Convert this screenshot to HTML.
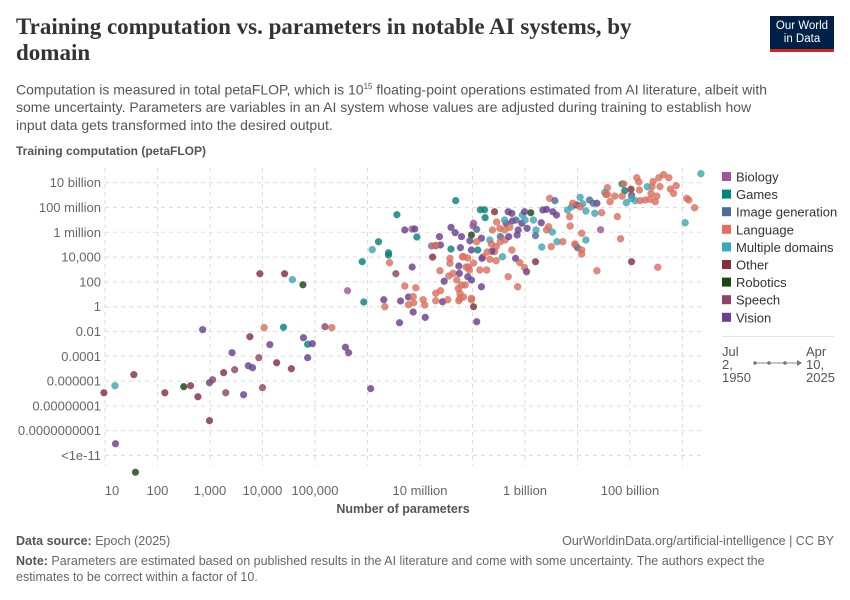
<!DOCTYPE html>
<html><head><meta charset="utf-8">
<style>
body{margin:0;background:#fff;font-family:"Liberation Sans",sans-serif;}
#wrap{position:relative;width:850px;height:600px;overflow:hidden;}
.t{position:absolute;white-space:nowrap;}
</style></head>
<body>
<div id="wrap">
<div class="t" style="left:16px;top:14px;font-family:'Liberation Serif',serif;font-size:23px;line-height:26px;color:#333;font-weight:bold;white-space:normal;width:700px;">Training computation vs. parameters in notable AI systems, by<br>domain</div>
<div style="position:absolute;left:770px;top:16px;width:64px;height:36px;background:#002147;border-bottom:3px solid #ce261e;color:#fff;font-size:11.5px;line-height:13px;text-align:center;padding-top:4px;box-sizing:border-box;">Our World<br>in Data</div>
<div class="t" style="left:16px;top:78px;font-size:14px;line-height:17.5px;color:#555;">Computation is measured in total petaFLOP, which is 10<sup style="font-size:8px">15</sup> floating-point operations estimated from AI literature, albeit with<br>some uncertainty. Parameters are variables in an AI system whose values are adjusted during training to establish how<br>input data gets transformed into the desired output.</div>
<div class="t" style="left:16px;top:144px;font-size:12px;font-weight:bold;color:#555;">Training computation (petaFLOP)</div>
<svg id="chart" width="850" height="600" style="position:absolute;left:0;top:0;"></svg>
<div class="t" style="left:16px;top:534px;font-size:12.5px;color:#666;"><b style="color:#555;font-weight:bold">Data source:</b> Epoch (2025)</div>
<div class="t" style="right:16px;top:534px;font-size:12.5px;color:#666;">OurWorldinData.org/artificial-intelligence | CC BY</div>
<div class="t" style="left:16px;top:553px;font-size:12.5px;line-height:16px;color:#666;white-space:normal;width:800px;"><b style="color:#555">Note:</b> Parameters are estimated based on published results in the AI literature and come with some uncertainty. The authors expect the estimates to be correct within a factor of 10.</div>
</div>
<script>
const domainNames=["Biology","Games","Image generation","Language","Multiple domains","Other","Robotics","Speech","Vision"];
const domainCodes=["B","G","I","L","M","O","R","S","V"];
const domainColors=["#a2559c","#00847e","#4c6a9c","#e56e5a","#38aaba","#883039","#18470f","#8c4569","#6d3e91"];
const xTickExps=[1,2,3,4,5,7,9,11];
const xTickLabels=["10","100","1,000","10,000","100,000","10 million","1 billion","100 billion"];
const yTickExps=[10,8,6,4,2,0,-2,-4,-6,-8,-10,-12];
const yTickLabels=["10 billion","100 million","1 million","10,000","100","1","0.01","0.0001","0.000001","0.00000001","0.0000000001","<1e-11"];
const pointDomain=("OMOVROROOV"+"VSOSOVSVVV"+"OSOLSVOOMR"+"GOVGVVSLBV"+"VVGGMGGGGL"+"VLSVVVBVGV"+"LVLLLLVLLV"+"OBSVVLLLVL"+"LVLLVVGGVV"+"VLVLLLLLLL"+"LLVLLOBRIV"+"VGVLGGGOLL"+"LMVBLLLLVL"+"LVLLMILLVL"+"VMVVLVLVLL"+"LVLVIVMMVR"+"MVMIMOVLLM"+"LMLVVLIVVM"+"MLLLIVLVML"+"LLLLGLGLML"+"OLLMLLLLLL"+"LLMLOLLBSM"+"MMLLLLLLLL"+"LLLLVIMMML"+"LLLMIML"+"LLLVVLLLLLL").split("");
const pointLogParams=[.98,1.19,1.55,1.2,1.58,2.14,2.5,2.63,2.77,2.86,2.99,3.05,2.99,3.3,3.26,3.42,3.47,3.64,3.73,3.81,3.76,3.93,3.95,4.03,4.0,4.14,4.27,4.42,4.57,4.77,4.4,4.55,4.78,4.86,4.95,4.86,5.19,5.32,5.62,5.58,5.64,6.06,5.93,5.9,6.09,6.21,6.56,6.4,6.4,6.42,6.31,6.33,6.54,6.61,6.63,6.71,6.85,6.9,6.94,6.85,6.71,6.78,6.78,6.88,6.87,6.92,6.87,7.06,7.09,7.1,7.24,7.22,7.3,7.39,7.37,7.3,7.3,7.39,7.43,7.53,7.38,7.46,7.57,7.55,7.59,7.67,7.68,7.59,7.77,7.79,7.74,7.63,7.75,7.7,7.73,7.76,7.74,7.83,7.86,7.83,7.91,7.92,7.91,7.94,7.98,8.02,8.01,7.98,8.08,7.95,7.98,8.1,8.08,8.02,8.15,8.23,8.24,8.42,8.46,8.52,8.38,8.33,8.17,8.02,8.08,8.36,8.45,8.42,8.37,8.28,8.2,8.18,8.33,8.45,8.57,8.53,8.53,8.62,8.69,8.61,8.64,8.61,8.68,8.75,8.71,8.85,8.75,8.82,8.68,8.9,8.99,9.03,8.86,8.76,8.83,8.94,9.0,8.95,8.99,9.11,9.16,9.04,9.21,9.2,9.32,9.2,9.31,9.41,9.45,9.52,9.5,9.61,9.72,9.34,9.41,9.47,9.57,9.53,9.6,9.81,9.89,9.85,9.86,9.96,10.0,9.98,9.91,8.87,12.35,11.64,11.74,11.55,11.13,11.17,10.85,10.88,10.9,10.57,10.52,10.54,11.02,11.18,11.42,11.33,11.57,11.44,11.77,11.88,11.83,12.08,12.12,12.23,12.05,11.53,11.03,10.37,10.82,10.44,11.03,11.03,10.93,11.1,11.29,11.38,11.48,11.19,11.4,11.51,10.85,10.71,10.76,10.62,10.57,10.46,10.37,10.3,10.33,10.16,10.16,10.08,10.08,10.08,9.95,10.05,10.23,10.1,10.05,7.79,7.76,7.98,8.17,7.98,8.27,8.14,7.88,7.57,7.3,7.81];
const pointLogCompute=[-6.94,-6.37,-5.48,-11.05,-13.35,-6.94,-6.45,-6.37,-7.26,-1.85,-6.13,-5.89,-9.19,-6.94,-5.32,-3.71,-5.08,-7.1,-4.76,-4.92,-2.42,-4.11,2.66,-1.69,-6.53,-3.06,-4.52,2.66,2.18,1.77,-1.66,-5.0,-2.5,-3.03,-2.98,-4.11,-1.61,-1.69,1.29,-3.27,-3.71,-6.61,0.38,3.63,4.6,5.24,7.42,4.35,4.17,3.55,0.56,0,2.66,-1.29,0.46,6.19,6.27,6.27,5.62,3.2,1.67,0.78,0.16,0.32,0.81,1.53,-0.43,0.56,0.14,-0.86,4.0,4.9,4.92,4.98,5.65,1.08,0.48,1.29,0.4,0.56,2.9,2.05,3.5,2.48,6.4,5.97,8.55,4.65,4.76,5.65,3.28,2.69,2.69,2.15,1.48,1.08,0.48,0.78,1.75,4.03,3.93,3.2,2.42,2.96,0.56,0,6.51,5.78,6.24,5.32,4.57,4.57,-1.21,3.52,7.82,7.82,7.18,7.66,6.83,6.32,6.19,5.38,5.52,6.73,5.24,5.06,4.84,4.44,4.47,4.41,4.03,3.9,3.82,3.71,4.03,5.65,5.24,5.38,5.65,6.19,6.73,6.99,7.66,7.53,6.4,5.78,4.57,3.9,2.42,3.55,3.15,2.82,1.61,6.91,6.99,6.73,6.99,7.39,7.66,7.58,6.99,6.32,6.19,5.73,4.81,3.63,6.77,6.19,6.45,6.02,4.84,5.24,5.24,7.8,7.85,8.74,8.55,7.66,7.39,7.8,8.06,7.26,6.51,4.98,4.76,8.2,8.34,6.19,10.73,10.65,10.4,10.4,10.4,10.06,9.9,9.9,9.35,9.6,9.22,9.06,9.47,9.41,9.68,9.68,9.68,10.09,9.49,9.76,9.14,8.74,8.6,7.98,6.77,3.18,3.63,2.9,5.48,6.21,9.0,8.74,8.39,8.55,8.6,8.66,8.47,8.55,9.14,8.92,8.92,8.92,7.26,8.47,9.06,7.58,8.34,8.34,7.53,7.72,5.38,5.92,4.57,4.25,5.06,8.82,8.6,8.3,8.06,1.75,0.67,0.67,1.61,2.15,2.96,2.96,3.2,3.9,4.95,4.03];

const NS="http://www.w3.org/2000/svg";
const svg=document.getElementById("chart");
const X0=105,XD=52.5,Y0=182.7,YD=12.4,PL=105,PR=703,PT=168,PB=465;
function xScale(e){return X0+(e-1)*XD;}
function yScale(e){return Y0+(10-e)*YD;}
function mk(tag,attrs,parent){const el=document.createElementNS(NS,tag);for(const k in attrs)el.setAttribute(k,attrs[k]);(parent||svg).appendChild(el);return el;}

for(let e=1;e<=12;e++){
  const g=mk("line",{x1:xScale(e),x2:xScale(e),y1:PT,y2:PB,stroke:"#ddd","stroke-dasharray":"4,4"});
  
  
}
yTickExps.forEach((e,i)=>{
  const g=mk("line",{x1:PL,x2:PR,y1:yScale(e),y2:yScale(e),stroke:"#ddd","stroke-dasharray":"4,4"});
  
  
  const t=mk("text",{x:PL-4,y:yScale(e)+4.5,"text-anchor":"end","font-size":"13","fill":"#666","font-family":"Liberation Sans, sans-serif"});
  t.textContent=yTickLabels[i];
  
  
});
xTickExps.forEach((e,i)=>{
  let x=xScale(e); if(i===0)x+=7;
  const t=mk("text",{x:x,y:495,"text-anchor":"middle","font-size":"13","fill":"#666","font-family":"Liberation Sans, sans-serif"});
  t.textContent=xTickLabels[i];
  
  
});
const xt=mk("text",{x:403,y:513,"text-anchor":"middle","font-size":"12.5","font-weight":"bold","fill":"#555","font-family":"Liberation Sans, sans-serif"});
xt.textContent="Number of parameters";



const g=mk("g",{});
pointDomain.forEach((d,i)=>{
  if(i>=pointLogParams.length||i>=pointLogCompute.length)return;
  const di=domainCodes.indexOf(d);
  const c=mk("circle",{cx:xScale(pointLogParams[i]),cy:yScale(pointLogCompute[i]),r:3.5,fill:domainColors[di],"fill-opacity":0.82,stroke:"#777","stroke-width":0.4,"stroke-opacity":0.6},g);
  
  
});

domainNames.forEach((n,i)=>{
  const y=177+i*17.6;
  const r=mk("rect",{x:722,y:y-5,width:9,height:9,fill:domainColors[i]});
  
  
  const t=mk("text",{x:736,y:y+4.5,"font-size":"13","fill":"#333","font-family":"Liberation Sans, sans-serif"});
  t.textContent=n;
  
  
});
const sep=mk("line",{x1:722,x2:834,y1:336.5,y2:336.5,stroke:"#e5e5e5","stroke-width":1});


[["Jul",722,356],["2,",722,369],["1950",722,382],["Apr",806,356],["10,",806,369],["2025",806,382]].forEach(a=>{
  const t=mk("text",{x:a[1],y:a[2],"font-size":"13","fill":"#555","font-family":"Liberation Sans, sans-serif"});
  t.textContent=a[0];
  
  
});
const tl=mk("line",{x1:754,x2:798,y1:363,y2:363,stroke:"#888","stroke-width":1});


[755,769,785].forEach(x=>{
  const c=mk("circle",{cx:x,cy:363,r:1.8,fill:"#777"});
  
  
});
const ar=mk("path",{d:"M797,360 L802,363 L797,366 Z",fill:"#777"});


</script>
</body></html>
